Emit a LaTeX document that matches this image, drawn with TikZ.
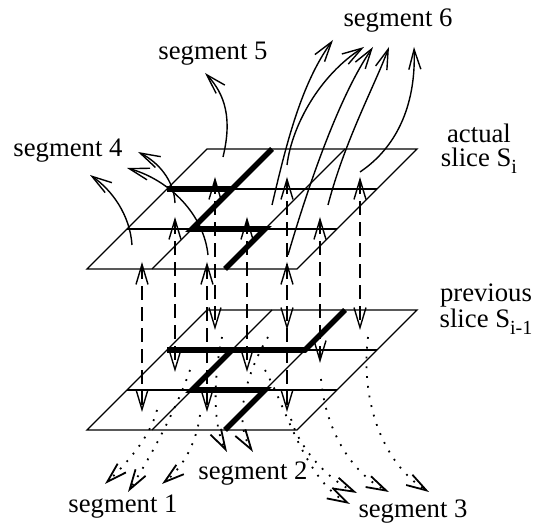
\documentclass[tikz,border=0pt]{standalone}
\usepackage{fontspec}
\setmainfont{Liberation Serif}
\usetikzlibrary{arrows.meta}
\newcommand{\slicesub}[1]{\raisebox{-3.3pt}{\fontsize{10}{10}\selectfont #1}}

\begin{document}
\begin{tikzpicture}[
    x=0.5pt,y=-0.5pt,
    every node/.style={font=\fontsize{13.35}{12}\selectfont,inner sep=0pt},
    seglabel/.style={anchor=base},
    slicelabel/.style={anchor=base,align=center},
    sheet/.style={line width=0.7pt,line join=miter},
    cutline/.style={line width=2.8pt},
    linker/.style={{Straight Barb[length=10pt,width=6pt]}-{Straight Barb[length=10pt,width=6pt]},dash pattern=on 7pt off 3.5pt,line width=0.7pt},
    riser/.style={-{Straight Barb[length=10pt,width=6pt]},line width=0.7pt},
    sinker/.style={-{Straight Barb[length=10pt,width=6pt]},dash pattern=on 0.9pt off 4pt,line width=0.9pt}
]
\useasboundingbox (0,0) rectangle (542,523);
\draw[sheet] (207,149) -- (417,149) -- (297,269) -- (87,269) -- cycle;
\draw[sheet] (167,189) -- (377,189);
\draw[sheet] (127,229) -- (337,229);
\draw[sheet] (272,149) -- (152,269);
\draw[sheet] (345,149) -- (225,269);
\draw[cutline] (167,189) -- (232,189);
\draw[cutline] (272,149) -- (192,229) -- (265,229) -- (225,269);
\draw[sheet] (207,310) -- (417,310) -- (297,430) -- (87,430) -- cycle;
\draw[sheet] (167,350) -- (377,350);
\draw[sheet] (127,390) -- (337,390);
\draw[sheet] (272,310) -- (152,430);
\draw[sheet] (345,310) -- (225,430);
\draw[cutline] (167,350) -- (305,350) -- (345,310);
\draw[cutline] (232,350) -- (192,390) -- (265,390) -- (225,430);
\coordinate (a00) at (215,177);
\coordinate (a01) at (287,177);
\coordinate (a02) at (360,177);
\coordinate (a10) at (175,217);
\coordinate (a11) at (247,217);
\coordinate (a12) at (320,217);
\coordinate (a20) at (142,262);
\coordinate (a21) at (207,262);
\coordinate (a22) at (287,262);
\coordinate (p00) at (215,330);
\coordinate (p01) at (287,330);
\coordinate (p02) at (360,330);
\coordinate (p10) at (175,372);
\coordinate (p11) at (247,372);
\coordinate (p12) at (320,363);
\coordinate (p20) at (142,412);
\coordinate (p21) at (207,412);
\coordinate (p22) at (287,412);
\draw[linker] (a00) -- (p00);
\draw[linker] (a01) -- (p01);
\draw[linker] (a02) -- (p02);
\draw[linker] (a10) -- (p10);
\draw[linker] (a11) -- (p11);
\draw[linker] (a12) -- (p12);
\draw[linker] (a20) -- (p20);
\draw[linker] (a21) -- (p21);
\draw[linker] (a22) -- (p22);
\node[seglabel] (seg4) at (68,157) {segment 4};
\node[seglabel] (seg5) at (213,60) {segment 5};
\node[seglabel] (seg6) at (398,27) {segment 6};
\node[seglabel] (seg1) at (123,513) {segment 1};
\node[seglabel] (seg2) at (253,480) {segment 2};
\node[seglabel] (seg3) at (413,518) {segment 3};
\node[slicelabel] (actual) at (479,167) {actual\\slice S\slicesub{i}};
\node[slicelabel] (previous) at (486,328) {previous\\slice S\slicesub{i-1}};
\coordinate (ua00) at (223,157);
\coordinate (ua01) at (287,165);
\coordinate (ua02) at (360,172);
\coordinate (ua10) at (175,203);
\coordinate (ua11) at (272,205);
\coordinate (ua12) at (328,205);
\coordinate (ua20) at (132,245);
\coordinate (ua21) at (208,255);
\coordinate (ua22) at (288,255);
\coordinate (t4a) at (138,152);
\coordinate (t4b) at (127,168);
\coordinate (t4c) at (90,175);
\coordinate (t5) at (205,73);
\coordinate (t6a) at (333,40);
\coordinate (t6b) at (364,47);
\coordinate (t6c) at (373,47);
\coordinate (t6d) at (389,47);
\coordinate (t6e) at (414,47);
\draw[riser] (ua00) .. controls (232,120) and (226,95) .. (t5);
\draw[riser] (ua10) .. controls (174,180) and (158,162) .. (t4a);
\draw[riser] (ua21) .. controls (204,215) and (170,180) .. (t4b);
\draw[riser] (ua20) .. controls (130,215) and (112,190) .. (t4c);
\draw[riser] (ua11) .. controls (285,150) and (300,85) .. (t6a);
\draw[riser] (ua01) .. controls (292,125) and (320,75) .. (t6b);
\draw[riser] (ua22) .. controls (310,180) and (340,95) .. (t6c);
\draw[riser] (ua12) .. controls (345,140) and (375,85) .. (t6d);
\draw[riser] (ua02) .. controls (400,145) and (416,100) .. (t6e);
\coordinate (up00) at (222,337);
\coordinate (up01) at (268,337);
\coordinate (up02) at (368,337);
\coordinate (up10) at (190,370);
\coordinate (up11) at (265,370);
\coordinate (up12) at (321,379);
\coordinate (up20) at (157,410);
\coordinate (up21) at (200,415);
\coordinate (up22) at (291,419);
\coordinate (t1a) at (105,484);
\coordinate (t1b) at (128,492);
\coordinate (t1c) at (162,484);
\coordinate (t2a) at (227,452);
\coordinate (t2b) at (253,452);
\coordinate (t3a) at (350,504);
\coordinate (t3b) at (357,493);
\coordinate (t3c) at (389,492);
\coordinate (t3d) at (429,492);
\draw[sinker] (up00) .. controls (214,375) and (212,425) .. (t2a);
\draw[sinker] (up01) .. controls (248,370) and (232,420) .. (t2b);
\draw[sinker] (up10) .. controls (178,405) and (152,455) .. (t1b);
\draw[sinker] (up20) .. controls (150,438) and (125,465) .. (t1a);
\draw[sinker] (up21) .. controls (196,445) and (182,468) .. (t1c);
\draw[sinker] (up11) .. controls (285,405) and (305,480) .. (t3a);
\draw[sinker] (up22) .. controls (298,445) and (325,478) .. (t3b);
\draw[sinker] (up12) .. controls (326,435) and (355,475) .. (t3c);
\draw[sinker] (up02) .. controls (360,405) and (385,465) .. (t3d);
\end{tikzpicture}
\end{document}
